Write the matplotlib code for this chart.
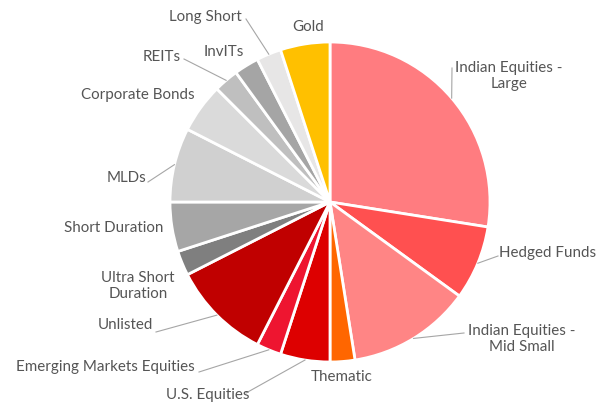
import numpy as np
import matplotlib
matplotlib.use('Agg')
import matplotlib.pyplot as plt

# Allocation shares (%), clockwise from 12 o'clock
categories = ['Indian Equities -\nLarge', 'Hedged Funds', 'Indian Equities -\nMid Small',
              'Thematic', 'U.S. Equities', 'Emerging Markets Equities', 'Unlisted',
              'Ultra Short\nDuration', 'Short Duration', 'MLDs', 'Corporate Bonds',
              'REITs', 'InvITs', 'Long Short', 'Gold']
shares = [27.5, 7.5, 12.5, 2.5, 5, 2.5, 10, 2.5, 5, 7.5, 5, 2.5, 2.5, 2.5, 5]
colors = ['#FF7C80', '#FF5050', '#FF8585', '#FF6600', '#DD0000', '#EE1530', '#C00000',
          '#7F7F7F', '#A6A6A6', '#D0D0D0', '#DADADA', '#BFBFBF', '#A5A5A5', '#E7E6E6',
          '#FFC000']

# label centre and leader elbow, in figure pixels (None = no leader)
W, H = 608, 408
CX, CY, R = 330, 202, 160
label_pos = [(509, 76), (548, 253), (522, 339), (342, 377), (208, 395), (105, 367),
             (125, 325), (138, 286), (114, 228), (126, 178), (138, 95), (162, 57),
             (224, 52), (205, 17), (308, 27)]
elbows = [(452, 68), (498, 256), (464, 333), None, (246, 393), (199, 372),
          (156, 332), None, None, (148, 182), None, (184, 59), None, (246, 19), None]

plt.rcParams['font.family'] = ['Lato', 'DejaVu Sans']

fig = plt.figure(figsize=(W / 100, H / 100), dpi=100)
ax = fig.add_axes([(CX - R) / W, (H - CY - R) / H, 2 * R / W, 2 * R / H])
wedges, _ = ax.pie(shares, colors=colors, startangle=90, counterclock=False,
                   wedgeprops=dict(edgecolor='white', linewidth=2))
ax.set_xlim(-1, 1)
ax.set_ylim(-1, 1)
ax.set_aspect('equal')
ax.axis('off')


def to_data(p):
    return ((p[0] - CX) / R, (CY - p[1]) / R)


for w, name, pos, elb in zip(wedges, categories, label_pos, elbows):
    tx, ty = to_data(pos)
    ax.text(tx, ty, name, ha='center', va='center', fontsize=10.9, color='#555555',
            linespacing=1.2, clip_on=False)
    if elb is not None:
        mid = np.deg2rad((w.theta1 + w.theta2) / 2)
        ex, ey = to_data(elb)
        ax.plot([np.cos(mid), ex], [np.sin(mid), ey], color='#A6A6A6', lw=0.8,
                clip_on=False)

fig.savefig('out.png', dpi=100)
